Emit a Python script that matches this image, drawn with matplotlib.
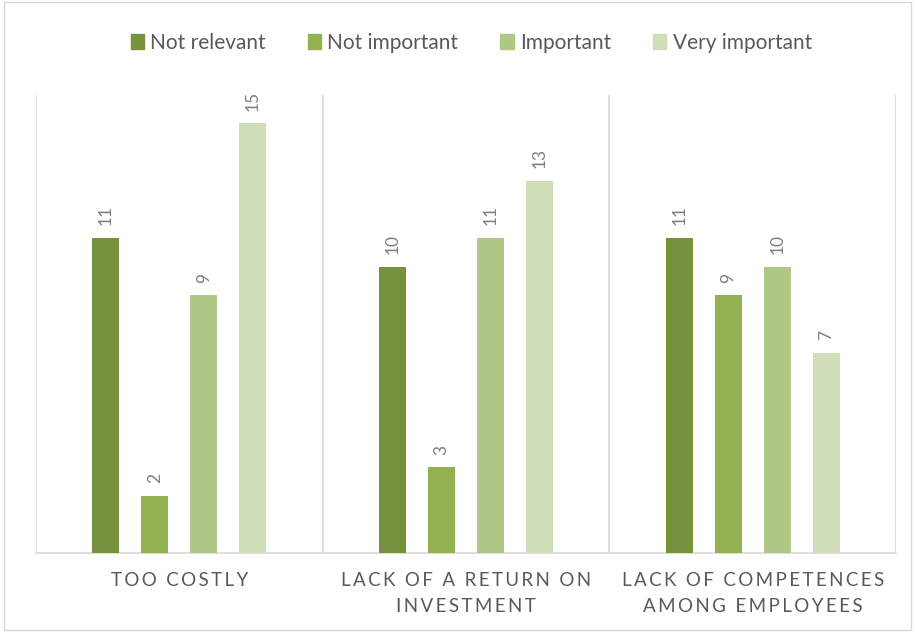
import matplotlib
matplotlib.use("Agg")
import matplotlib.pyplot as plt
from matplotlib.patches import Rectangle, Patch
import numpy as np

plt.rcParams['font.family'] = ['Lato', 'DejaVu Sans']

categories = ["TOO COSTLY", "LACK OF A RETURN ON\nINVESTMENT", "LACK OF COMPETENCES\nAMONG EMPLOYEES"]
series_names = ["Not relevant", "Not important", "Important", "Very important"]
not_relevant = [11, 10, 11]
not_important = [2, 3, 9]
important = [9, 11, 10]
very_important = [15, 13, 7]

series = [not_relevant, not_important, important, very_important]
colors = ["#77923c", "#92b153", "#afc885", "#cfddb9"]


def spaced(text, gap="\u2009"):
    # widen the caps a little, like the spaced axis labels
    return "\n".join(gap.join(line) for line in text.split("\n"))


fig = plt.figure(figsize=(9.15, 6.32), dpi=100)
ax = fig.add_axes([0.0393, 0.125, 0.940, 0.725])

x = np.arange(len(categories))
width = 0.094
step = 0.171
for i, (vals, col) in enumerate(zip(series, colors)):
    pos = x + (i - 1.5) * step
    bars = ax.bar(pos, vals, width=width, color=col, label=series_names[i], zorder=3)
    for b, v in zip(bars, vals):
        ax.annotate(str(v), (b.get_x() + b.get_width() / 2, v),
                    xytext=(0, 9), textcoords="offset points",
                    rotation=90, ha="center", va="bottom",
                    fontsize=12.5, color="#7f7f7f")

ax.set_xlim(-0.5, len(categories) - 0.5)
ax.set_ylim(0, 16)
ax.set_yticks([])
ax.set_xticks([])
for side in ["top", "right", "left"]:
    ax.spines[side].set_visible(False)
ax.spines["bottom"].set_color("#d9d9d9")
ax.spines["bottom"].set_linewidth(1.2)

# separators between the category groups
for sep in np.arange(-0.5, len(categories), 1.0):
    ax.axvline(sep, color="#d9d9d9", linewidth=1.2, zorder=1)

for xi, cat in zip(x, categories):
    ax.text(xi, -0.042, spaced(cat), transform=ax.get_xaxis_transform(),
            ha="center", va="top", fontsize=13.5, color="#595959",
            linespacing=1.6)

handles = [Patch(color=c) for c in colors]
fig.legend(handles, series_names, loc="center", bbox_to_anchor=(0.515, 0.932),
           ncol=4, frameon=False, fontsize=15, labelcolor="#595959",
           handlelength=0.65, handleheight=0.7, handletextpad=0.3,
           columnspacing=2.0)

fig.patches.append(Rectangle((0.004, 0.003), 0.992, 0.994, transform=fig.transFigure,
                             fill=False, edgecolor="#d9d9d9", linewidth=1))

fig.savefig("out.png", dpi=100)
